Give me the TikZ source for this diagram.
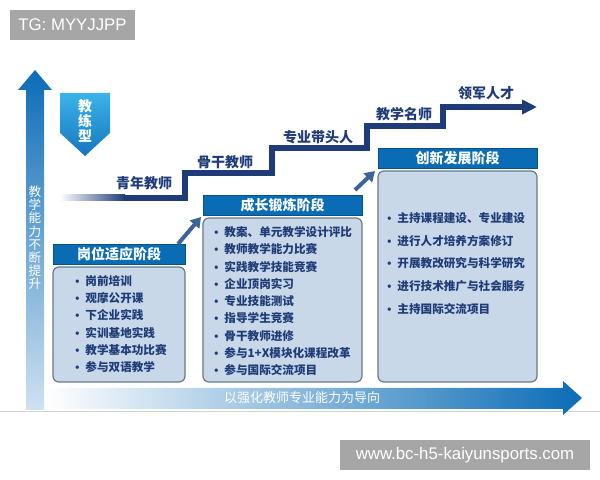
\documentclass[tikz,border=0pt]{standalone}
\usepackage{fontspec}
\setmainfont{Noto Sans CJK SC}
\newfontfamily\wmfont{Liberation Sans}
\usetikzlibrary{arrows.meta, positioning, shapes.geometric}
\definecolor{navy}{HTML}{1F3C78}
\definecolor{hdblue}{HTML}{0B6CB6}
\definecolor{bodyfill}{HTML}{C8D8E8}
\definecolor{bodyline}{HTML}{66788A}
\definecolor{wmgray}{HTML}{A6A6A6}
\definecolor{upblue}{HTML}{3D6398}
\definecolor{badgetop}{HTML}{3AB4EA}
\definecolor{badgebot}{HTML}{1576BE}
\newcommand{\itembullet}{{\wmfont\textbullet}\hspace{3pt}}

\begin{document}
\begin{tikzpicture}[x=0.5pt, y=-0.5pt,
  hd/.style={rectangle, fill=hdblue, draw=hdblue!75!black, line width=0.4pt, minimum height=10pt, inner sep=0pt, text=white, font=\bfseries\fontsize{7}{8}\selectfont},
  bodybox/.style={rectangle, rounded corners=3pt, fill=bodyfill, draw=bodyline, line width=0.6pt, inner sep=0pt},
  item/.style={anchor=west, inner sep=0pt, text=navy, font=\bfseries\fontsize{5.8}{7}\selectfont},
  rank/.style={inner sep=0pt, text=navy, font=\bfseries\fontsize{7}{8}\selectfont},
  uparrow/.style={draw=upblue, line width=2pt, -{Triangle[length=5pt,width=6pt]}},
  wm/.style={fill=wmgray, text=white, inner sep=0pt, font=\wmfont\fontsize{8.4}{10}\selectfont}
]
  \useasboundingbox (0,0) rectangle (600,480);

  % watermarks
  \node[wm, minimum width=62.5pt, minimum height=15pt] (tg) at (72.5,25) {TG: MYYJJPP};
  \node[wm, minimum width=125pt, minimum height=15pt] (site) at (465,455) {www.bc-h5-kaiyunsports.com};

  % axes
  \draw[gray!35, line width=0.5pt] (0,412) -- (600,412);
  \shade[top color=hdblue, middle color=hdblue!92, bottom color=hdblue!20]
    (35,70) -- (52,90) -- (44,90) -- (44,410) -- (26,410) -- (26,90) -- (18,90) -- cycle;
  \node[text=white, align=center, inner sep=0pt, font=\fontsize{6.3}{6.6}\selectfont] (vlabel) at (35,238)
    {教\\学\\能\\力\\不\\断\\提\\升};
  \shade[left color=white, middle color=hdblue!80, right color=hdblue]
    (45,388) -- (563,388) -- (563,381) -- (582,398) -- (563,415) -- (563,409) -- (45,409) -- cycle;
  \node[text=white, inner sep=0pt, font=\fontsize{6.5}{8}\selectfont] (hlabel) at (302,398) {以强化教师专业能力为导向};

  % badge
  \shade[top color=badgetop, bottom color=badgebot]
    (60,93) -- (110,93) -- (110,133) -- (85,156) -- (60,133) -- cycle;
  \node[text=white, align=center, inner sep=0pt, font=\bfseries\fontsize{7}{7.3}\selectfont] (badge) at (85,121) {教\\练\\型};

  % career ladder
  \shade[left color=white, right color=navy] (60,195) rectangle (125,201);
  \draw[navy, line width=3pt, line join=miter, -{Triangle[length=7.5pt,width=7pt]}]
    (124,198) -- (185,198) -- (185,173) -- (272,173) -- (272,148) -- (367,148)
    -- (367,126) -- (443,126) -- (443,107) -- (537,107);
  \node[rank] (r1) at (144,183) {青年教师};
  \node[rank] (r2) at (225,162) {骨干教师};
  \node[rank] (r3) at (318,137) {专业带头人};
  \node[rank] (r4) at (404,114) {教学名师};
  \node[rank] (r5) at (486,93) {领军人才};

  % stage 1
  \node[hd, minimum width=66pt] (hd1) at (119,254.5) {岗位适应阶段};
  \node[bodybox, minimum width=66pt, minimum height=57.5pt] (bd1) at (119,324.5) {};
  \foreach \t [count=\i] in {岗前培训, 观摩公开课, 下企业实践, 实训基地实践, 教学基本功比赛, 参与双语教学}
    \node[item] (a\i) at (75,{281+17.2*(\i-1)}) {\itembullet\t};

  % stage 2
  \node[hd, minimum width=79.5pt] (hd2) at (282.5,205) {成长锻炼阶段};
  \node[bodybox, minimum width=79.5pt, minimum height=82pt] (bd2) at (282.5,300) {};
  \foreach \t [count=\i] in {教案、单元教学设计评比, 教师教学能力比赛, 实践教学技能竞赛, 企业顶岗实习,
      专业技能测试, 指导学生竞赛, 骨干教师进修, 参与1+X模块化课程改革, 参与国际交流项目}
    \node[item] (b\i) at (214,{232+17.3*(\i-1)}) {\itembullet\t};

  % stage 3
  \node[hd, minimum width=79.5pt] (hd3) at (457.5,158) {创新发展阶段};
  \node[bodybox, minimum width=79.5pt, minimum height=105.5pt] (bd3) at (457.5,276.5) {};
  \foreach \t [count=\i] in {主持课程建设、专业建设, 进行人才培养方案修订, 开展教改研究与科学研究,
      进行技术推广与社会服务, 主持国际交流项目}
    \node[item] (c\i) at (387,{218+22.7*(\i-1)}) {\itembullet\t};

  % stage transitions
  \coordinate (s1) at (178,244);
  \coordinate (e1) at (201,217);
  \coordinate (s2) at (355,190);
  \coordinate (e2) at (375,171);
  \draw[uparrow] (s1) -- (e1);
  \draw[uparrow] (s2) -- (e2);
\end{tikzpicture}
\end{document}
